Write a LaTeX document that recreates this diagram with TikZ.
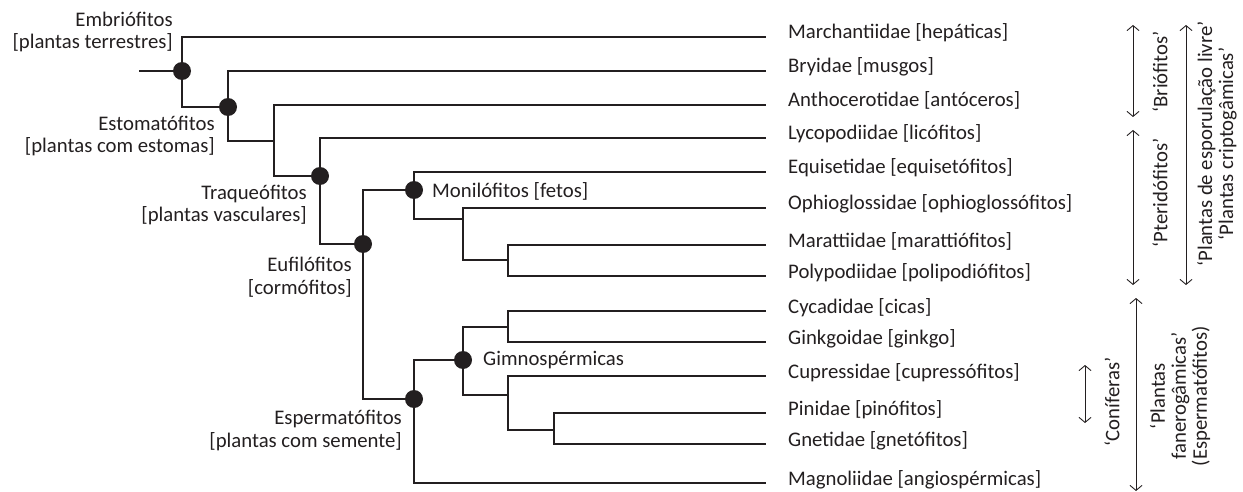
\documentclass[tikz,border=0pt]{standalone}
\usepackage{fontspec}
\setmainfont{Carlito}
\usepackage{tikz}
\usetikzlibrary{arrows.meta,positioning}
\definecolor{ink}{RGB}{35,31,32}
\tikzstyle{clade}=[circle,fill=ink,inner sep=0pt,minimum size=18pt]
\tikzstyle{taxon}=[anchor=west,inner sep=0pt,text height=12pt,text depth=8pt]
\tikzstyle{grupo}=[anchor=base east,align=right,inner sep=0pt]
\tikzstyle{ramo}=[draw=ink,line width=1.2pt]
\tikzstyle{folha}=[ramo,shorten >=22pt]
\tikzstyle{faixa}=[<->,draw=ink,line width=0.9pt,>={Straight Barb[length=5pt,width=12pt]}]
\tikzstyle{nome}=[rotate=90,align=center,inner sep=0pt,font=\fontsize{20.75}{21}\selectfont]

\begin{document}
\begin{tikzpicture}[x=1pt,y=-1pt,font=\fontsize{20.75}{22.5}\selectfont,text=ink]
    \useasboundingbox (0,0) rectangle (1243,492);

    % Taxons
    \node[taxon] (l1) at (788,37) {Marchantiidae [hepáticas]};
    \node[taxon] (l2) at (788,71) {Bryidae [musgos]};
    \node[taxon] (l3) at (788,105) {Anthocerotidae [antóceros]};
    \node[taxon] (l4) at (788,138) {Lycopodiidae [licófitos]};
    \node[taxon] (l5) at (788,172) {Equisetidae [equisetófitos]};
    \node[taxon] (l6) at (788,208) {Ophioglossidae [ophioglossófitos]};
    \node[taxon] (l7) at (788,245) {Marattiidae [marattiófitos]};
    \node[taxon] (l8) at (788,276) {Polypodiidae [polipodiófitos]};
    \node[taxon] (l9) at (788,311) {Cycadidae [cicas]};
    \node[taxon] (l10) at (788,342) {Ginkgoidae [ginkgo]};
    \node[taxon] (l11) at (788,376) {Cupressidae [cupressófitos]};
    \node[taxon] (l12) at (788,413) {Pinidae [pinófitos]};
    \node[taxon] (l13) at (788,444) {Gnetidae [gnetófitos]};
    \node[taxon] (l14) at (788,483) {Magnoliidae [angiospérmicas]};

    % Clados
    \coordinate (raiz) at (139,71);
    \node[clade] (embr) at (182,71) {};
    \node[clade] (estom) at (228,107) {};
    \coordinate (antoc) at (274,141);
    \node[clade] (traq) at (320,176) {};
    \node[clade] (eufil) at (363,244) {};
    \node[clade] (monil) at (414,190) {};
    \coordinate (ophio) at (463,219);
    \coordinate (polip) at (508,260);
    \node[clade] (esperm) at (414,399) {};
    \node[clade] (gimno) at (463,360) {};
    \coordinate (cycad) at (508,327);
    \coordinate (conif) at (508,395);
    \coordinate (pinid) at (554,430);

    \node[grupo] (tEmbr) at (173,49) {Embriófitos\\{}[plantas terrestres]};
    \node[grupo] (tEstom) at (215,153) {Estomatófitos\\{}[plantas com estomas]};
    \node[grupo] (tTraq) at (307,222) {Traqueófitos\\{}[plantas vasculares]};
    \node[grupo] (tEufil) at (352,294) {Eufilófitos\\{}[cormófitos]};
    \node[grupo] (tEsperm) at (402,447) {Espermatófitos\\{}[plantas com semente]};
    \node[anchor=base west,inner sep=0pt] (tMonil) at (432,197) {Monilófitos [fetos]};
    \node[anchor=base west,inner sep=0pt] (tGimno) at (483,365) {Gimnospérmicas};

    % Ramos
    \draw[ramo] (raiz) -- (embr);
    \draw[folha] (embr) |- (l1);
    \draw[ramo] (embr) |- (estom);
    \draw[folha] (estom) |- (l2);
    \draw[ramo] (estom) |- (antoc);
    \draw[folha] (antoc) |- (l3);
    \draw[ramo] (antoc) |- (traq);
    \draw[folha] (traq) |- (l4);
    \draw[ramo] (traq) |- (eufil);
    \draw[ramo] (eufil) |- (monil);
    \draw[ramo] (eufil) |- (esperm);
    \draw[folha] (monil) |- (l5);
    \draw[ramo] (monil) |- (ophio);
    \draw[folha] (ophio) |- (l6);
    \draw[ramo] (ophio) |- (polip);
    \draw[folha] (polip) |- (l7);
    \draw[folha] (polip) |- (l8);
    \draw[ramo] (esperm) |- (gimno);
    \draw[folha] (esperm) |- (l14);
    \draw[ramo] (gimno) |- (cycad);
    \draw[ramo] (gimno) |- (conif);
    \draw[folha] (cycad) |- (l9);
    \draw[folha] (cycad) |- (l10);
    \draw[folha] (conif) |- (l11);
    \draw[ramo] (conif) |- (pinid);
    \draw[folha] (pinid) |- (l12);
    \draw[folha] (pinid) |- (l13);

    % Agrupamentos
    \coordinate (brioA) at (1133,25);
    \coordinate (brioB) at (1133,117);
    \coordinate (pterA) at (1133,130);
    \coordinate (pterB) at (1133,285);
    \coordinate (criptA) at (1186,25);
    \coordinate (criptB) at (1186,285);
    \coordinate (conA) at (1085,365);
    \coordinate (conB) at (1085,423);
    \coordinate (fanA) at (1136,298);
    \coordinate (fanB) at (1136,491);
    \draw[faixa] (brioA) -- (brioB);
    \draw[faixa] (pterA) -- (pterB);
    \draw[faixa] (criptA) -- (criptB);
    \draw[faixa] (conA) -- (conB);
    \draw[faixa] (fanA) -- (fanB);
    \node[nome] (tBrio) at (1160,72) {‘Briófitos’};
    \node[nome] (tPter) at (1160,193) {‘Pteridófitos’};
    \node[nome] (tCript) at (1217,144) {‘Plantas de esporulação livre’\\‘Plantas criptogâmicas’};
    \node[nome] (tCon) at (1112,402) {‘Coníferas’};
    \node[nome] (tFan) at (1180,396) {‘Plantas\\fanerogâmicas’\\(Espermatófitos)};

\end{tikzpicture}
\end{document}
